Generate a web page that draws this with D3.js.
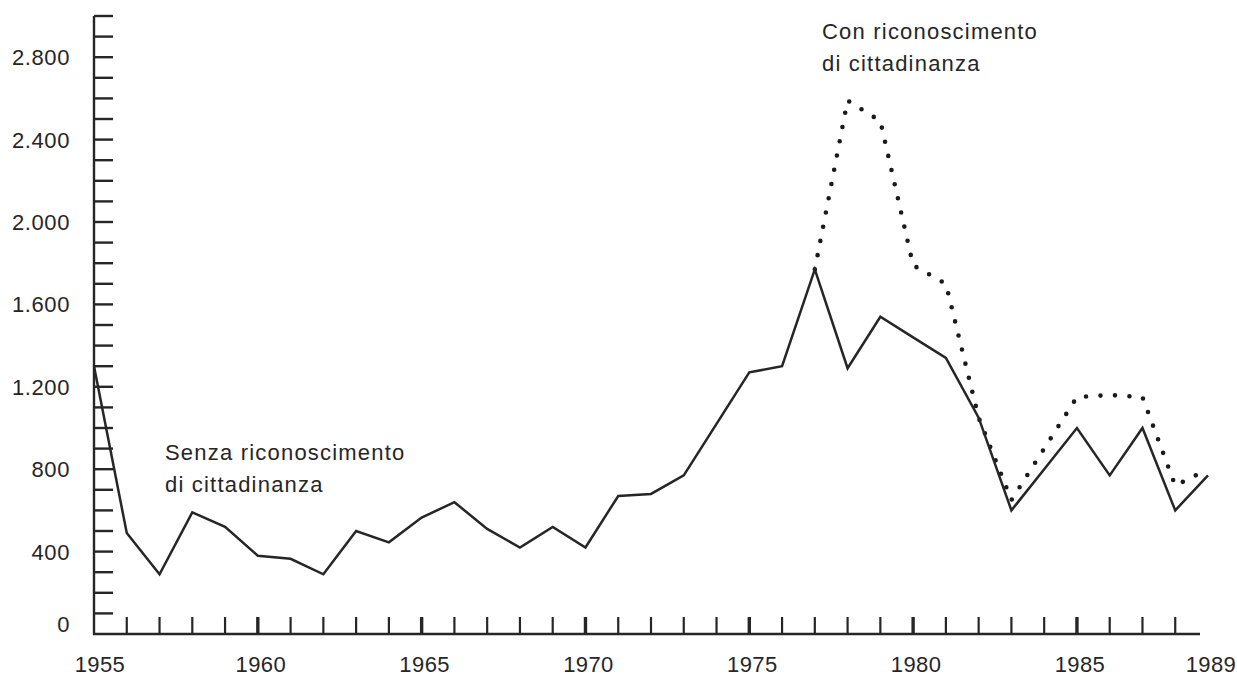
<!DOCTYPE html>
<html>
<head>
<meta charset="utf-8">
<script src="https://cdn.jsdelivr.net/npm/d3@7/dist/d3.min.js"></script>
<style>
  html, body { margin: 0; padding: 0; background: #fff; }
  svg { display: block; }
  text { font-family: "Liberation Sans", Arial, Helvetica, sans-serif; fill: #262626; }
</style>
</head>
<body>
<svg id="chart" width="1237" height="678"></svg>
<script>
// ---- data ----
const years = [1955,1956,1957,1958,1959,1960,1961,1962,1963,1964,1965,1966,1967,1968,1969,1970,
               1971,1972,1973,1974,1975,1976,1977,1978,1979,1980,1981,1982,1983,1984,1985,1986,1987,1988,1989];
// Senza riconoscimento di cittadinanza (solid)
const senza = [1300,490,290,590,520,380,365,290,500,445,565,640,510,420,520,420,
               670,680,770,1020,1270,1300,1770,1290,1540,1440,1340,1050,600,800,1000,770,1000,600,770];
// Con riconoscimento di cittadinanza (dotted)
const con = [null,null,null,null,null,null,null,null,null,null,null,null,null,null,null,null,
             null,null,null,null,null,null,1770,2590,2490,1790,1700,1050,650,900,1150,1160,1150,720,800];
const yTickValues = [0,400,800,1200,1600,2000,2400,2800];
const yTickLabels = ["0","400","800","1.200","1.600","2.000","2.400","2.800"];
const xLabelYears = [1955,1960,1965,1970,1975,1980,1985,1989];
const labelSenza = ["Senza riconoscimento","di cittadinanza"];
const labelCon = ["Con riconoscimento","di cittadinanza"];

// ---- scales ----
const svg = d3.select("#chart");
const x = d3.scaleLinear().domain([1955, 1989]).range([94, 1208]);
const y = d3.scaleLinear().domain([0, 3000]).range([634, 16]);
const ink = "#262626";

// ---- y axis ----
const yAxisG = svg.append("g");
yAxisG.append("line")
  .attr("x1", x(1955)).attr("x2", x(1955))
  .attr("y1", y(3000)).attr("y2", y(0) + 1)
  .attr("stroke", ink).attr("stroke-width", 2.4);
yAxisG.selectAll("line.ytick")
  .data(d3.range(100, 3001, 100))
  .enter().append("line")
  .attr("class", "ytick")
  .attr("x1", x(1955)).attr("x2", x(1955) + 19)
  .attr("y1", d => y(d)).attr("y2", d => y(d))
  .attr("stroke", ink).attr("stroke-width", 2.4);
yAxisG.selectAll("text.ylab")
  .data(yTickValues)
  .enter().append("text")
  .attr("class", "ylab")
  .attr("x", 70)
  .attr("y", d => y(d))
  .attr("dy", d => d === 0 ? "-0.08em" : "0.36em")
  .attr("text-anchor", "end")
  .attr("font-size", 22)
  .attr("letter-spacing", 0.6)
  .text((d, i) => yTickLabels[i]);

// ---- x axis ----
const xAxisG = svg.append("g");
xAxisG.append("line")
  .attr("x1", x(1955) - 1).attr("x2", x(1989) - 8)
  .attr("y1", y(0)).attr("y2", y(0))
  .attr("stroke", ink).attr("stroke-width", 2.4);
xAxisG.selectAll("line.xtick")
  .data(d3.range(1956, 1989))
  .enter().append("line")
  .attr("class", "xtick")
  .attr("x1", d => x(d)).attr("x2", d => x(d))
  .attr("y1", y(0)).attr("y2", y(0) - 17)
  .attr("stroke", ink)
  .attr("stroke-width", d => d % 5 === 0 ? 3.4 : 2.2);
xAxisG.selectAll("text.xlab")
  .data(xLabelYears)
  .enter().append("text")
  .attr("class", "xlab")
  .attr("x", d => d === 1955 ? x(d) + 6 : x(d) + 3)
  .attr("y", 672)
  .attr("text-anchor", "middle")
  .attr("font-size", 22)
  .attr("letter-spacing", 0.4)
  .text(d => d);

// ---- lines ----
const pts = (vals) => years.map((yr, i) => ({ yr, v: vals[i] }));
const line = d3.line().defined(d => d.v !== null).x(d => x(d.yr)).y(d => y(d.v));

svg.append("path")
  .datum(pts(con))
  .attr("d", line)
  .attr("fill", "none")
  .attr("stroke", "#1a1a1a")
  .attr("stroke-width", 4.6)
  .attr("stroke-linecap", "round")
  .attr("stroke-dasharray", "0 14.5");

svg.append("path")
  .datum(pts(senza))
  .attr("d", line)
  .attr("fill", "none")
  .attr("stroke", ink)
  .attr("stroke-width", 2.5)
  .attr("stroke-linejoin", "miter");

// ---- annotations ----
function annot(lines, xPos, yBase) {
  const t = svg.append("text")
    .attr("x", xPos).attr("y", yBase)
    .attr("font-size", 22)
    .attr("letter-spacing", 1.2);
  lines.forEach((s, i) => {
    t.append("tspan").attr("x", xPos).attr("dy", i === 0 ? 0 : 32).text(s);
  });
}
annot(labelSenza, 165, 460);
annot(labelCon, 822, 39);
</script>
</body>
</html>
